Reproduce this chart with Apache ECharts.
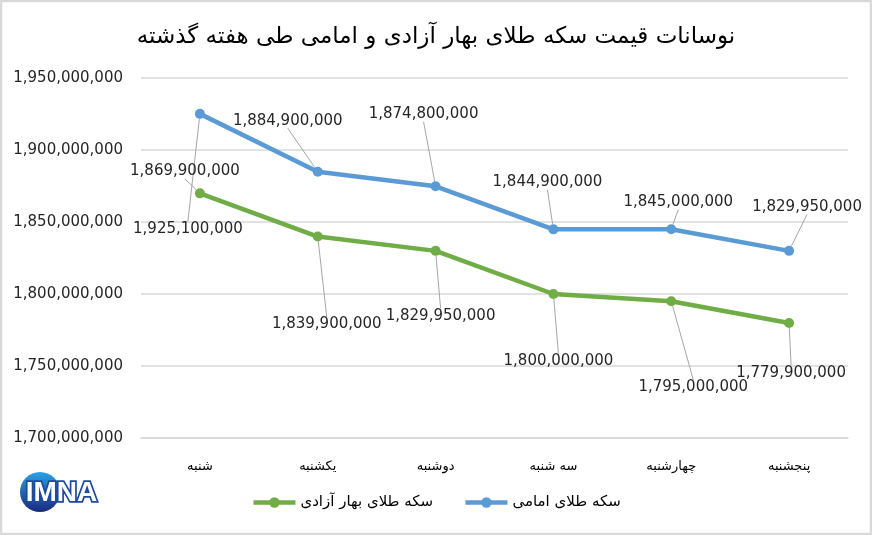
<!DOCTYPE html>
<html>
<head>
<meta charset="utf-8">
<script src="https://cdn.jsdelivr.net/npm/echarts@6/dist/echarts.min.js"></script>
<style>
html, body { margin: 0; padding: 0; background: #fff; }
#chart { width: 872px; height: 535px; }
</style>
</head>
<body>
<div id="chart"></div>
<script>
var days = ['شنبه', 'یکشنبه', 'دوشنبه', 'سه شنبه', 'چهارشنبه', 'پنجشنبه'];
var emamiName = 'سکه طلای امامی';
var baharName = 'سکه طلای بهار آزادی';
var emami = [1925100000, 1884900000, 1874800000, 1844900000, 1845000000, 1829950000];
var bahar = [1869900000, 1839900000, 1829950000, 1800000000, 1795000000, 1779900000];
var yTicks = { min: 1700000000, max: 1950000000, step: 50000000 };

// where each callout sits relative to its point (px)
var emamiShift = [[-12, 115], [-30, -51], [-12, -72], [-6, -47], [7, -27], [18, -44]];
var baharShift = [[-15, -22], [9, 88], [5, 65], [5, 67], [22, 86], [2, 50]];

var dom = document.getElementById('chart');
var chart = echarts.init(dom);

function fmt(v) {
  return Number(v).toLocaleString('en-US');
}

function makeSeries(name, values, color, shift) {
  return {
    name: name,
    type: 'line',
    data: values,
    symbol: 'circle',
    symbolSize: 10,
    lineStyle: { width: 4.5, color: color },
    itemStyle: { color: color },
    label: {
      show: true,
      position: 'inside',
      formatter: function (p) { return fmt(p.value); },
      fontFamily: 'DejaVu Sans',
      fontSize: 15,
      color: '#262626'
    },
    labelLine: {
      show: true,
      lineStyle: { color: '#a6a6a6', width: 1 }
    },
    labelLayout: function (p) {
      var s = shift[p.dataIndex];
      return { dx: s[0], dy: s[1] };
    },
    emphasis: { disabled: true },
    animation: false
  };
}

var option = {
  backgroundColor: '#fff',
  title: {
    text: 'نوسانات قیمت سکه طلای بهار آزادی و امامی طی هفته گذشته',
    left: 'center',
    top: 21,
    textStyle: { fontFamily: 'DejaVu Sans', fontSize: 23, fontWeight: 'normal', color: '#000' }
  },
  legend: {
    data: [baharName, emamiName],
    bottom: 20,
    left: 'center',
    itemWidth: 42,
    itemHeight: 13,
    itemGap: 30,
    lineStyle: { width: 4.5 },
    textStyle: { fontFamily: 'DejaVu Sans', fontSize: 15, color: '#000' }
  },
  grid: { left: 141, right: 24, top: 78, bottom: 97 },
  xAxis: {
    type: 'category',
    data: days,
    boundaryGap: true,
    axisLine: { lineStyle: { color: '#d9d9d9', width: 1.5 } },
    axisTick: { show: false },
    axisLabel: { fontFamily: 'DejaVu Sans', fontSize: 13, color: '#000', margin: 22 }
  },
  yAxis: {
    type: 'value',
    min: yTicks.min,
    max: yTicks.max,
    interval: yTicks.step,
    axisLine: { show: false },
    axisTick: { show: false },
    splitLine: { lineStyle: { color: '#d9d9d9', width: 1.5 } },
    axisLabel: {
      formatter: fmt,
      fontFamily: 'DejaVu Sans',
      fontSize: 15,
      color: '#262626',
      margin: 18
    }
  },
  graphic: [
    {
      type: 'rect',
      shape: { x: 1, y: 1, width: 870, height: 533 },
      style: { fill: 'none', stroke: '#d9d9d9', lineWidth: 2.5 },
      silent: true
    },
    {
      type: 'circle',
      shape: { cx: 40, cy: 492, r: 20 },
      style: {
        fill: new echarts.graphic.LinearGradient(0, 0, 0, 1, [
          { offset: 0, color: '#2aa2e3' },
          { offset: 1, color: '#1a2a7c' }
        ])
      },
      silent: true
    },
    {
      type: 'text',
      left: 24,
      top: 478,
      style: {
        text: 'IMNA',
        font: 'bold 28px "Liberation Sans"',
        fill: '#fff',
        stroke: '#1c4b9a',
        lineWidth: 3.5
      },
      silent: true
    }
  ],
  series: [
    makeSeries(emamiName, emami, '#5b9bd5', emamiShift),
    makeSeries(baharName, bahar, '#70ad47', baharShift)
  ]
};

chart.setOption(option);
</script>
</body>
</html>
